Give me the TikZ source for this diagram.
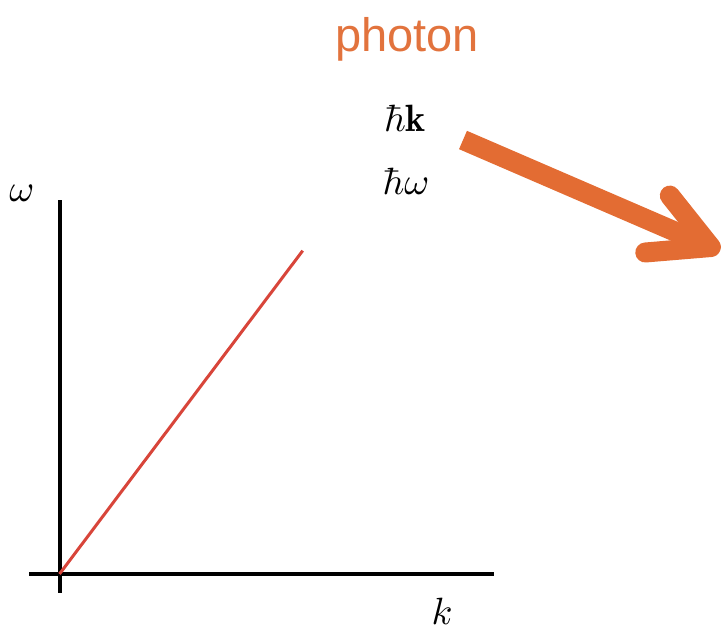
\documentclass[tikz,border=0pt]{standalone}
\usepackage{fontspec}
\usepackage{tikz}
\usetikzlibrary{arrows.meta}
\definecolor{phOrange}{HTML}{E36C33}
\definecolor{phText}{HTML}{E2733D}
\definecolor{phRed}{HTML}{D8453A}
\newfontfamily\labelsans{Liberation Sans}
\tikzset{
  axisline/.style={line width=4pt, draw=black},
  displine/.style={line width=3pt, draw=phRed},
  photonarr/.style={-{Straight Barb[length=58pt, width=62pt, round]}, line width=20pt, draw=phOrange},
  mathlab/.style={inner sep=0pt, anchor=base, scale=3.8},
  titlelab/.style={inner sep=0pt, anchor=base, text=phText, font=\labelsans, scale=4.7}
}
\begin{document}
\begin{tikzpicture}[x=1pt,y=1pt]
  \useasboundingbox (0,0) rectangle (724,642);
  % axes
  \coordinate (origin) at (59.5,68);
  \coordinate (ytop) at (59.5,442);
  \coordinate (ybot) at (59.5,49);
  \coordinate (xleft) at (29,68);
  \coordinate (xright) at (494,68);
  \draw[axisline] (ybot) -- (ytop);
  \draw[axisline] (xleft) -- (xright);
  \node[mathlab] (omegalab) at (22,440) {$\omega$};
  \node[mathlab] (klab) at (442,17) {$k$};
  % dispersion
  \coordinate (dispend) at (302.7,391.3);
  \draw[displine] (origin) -- (dispend);
  % photon
  \node[titlelab] (photonlab) at (407,590) {photon};
  \node[mathlab] (hklab) at (405,510) {$\hbar\mathbf{k}$};
  \node[mathlab] (hwlab) at (406,447) {$\hbar\omega$};
  \coordinate (arrowstart) at (463,502);
  \coordinate (arrowtip) at (720,391);
  \draw[photonarr] (arrowstart) -- (arrowtip);
\end{tikzpicture}
\end{document}
